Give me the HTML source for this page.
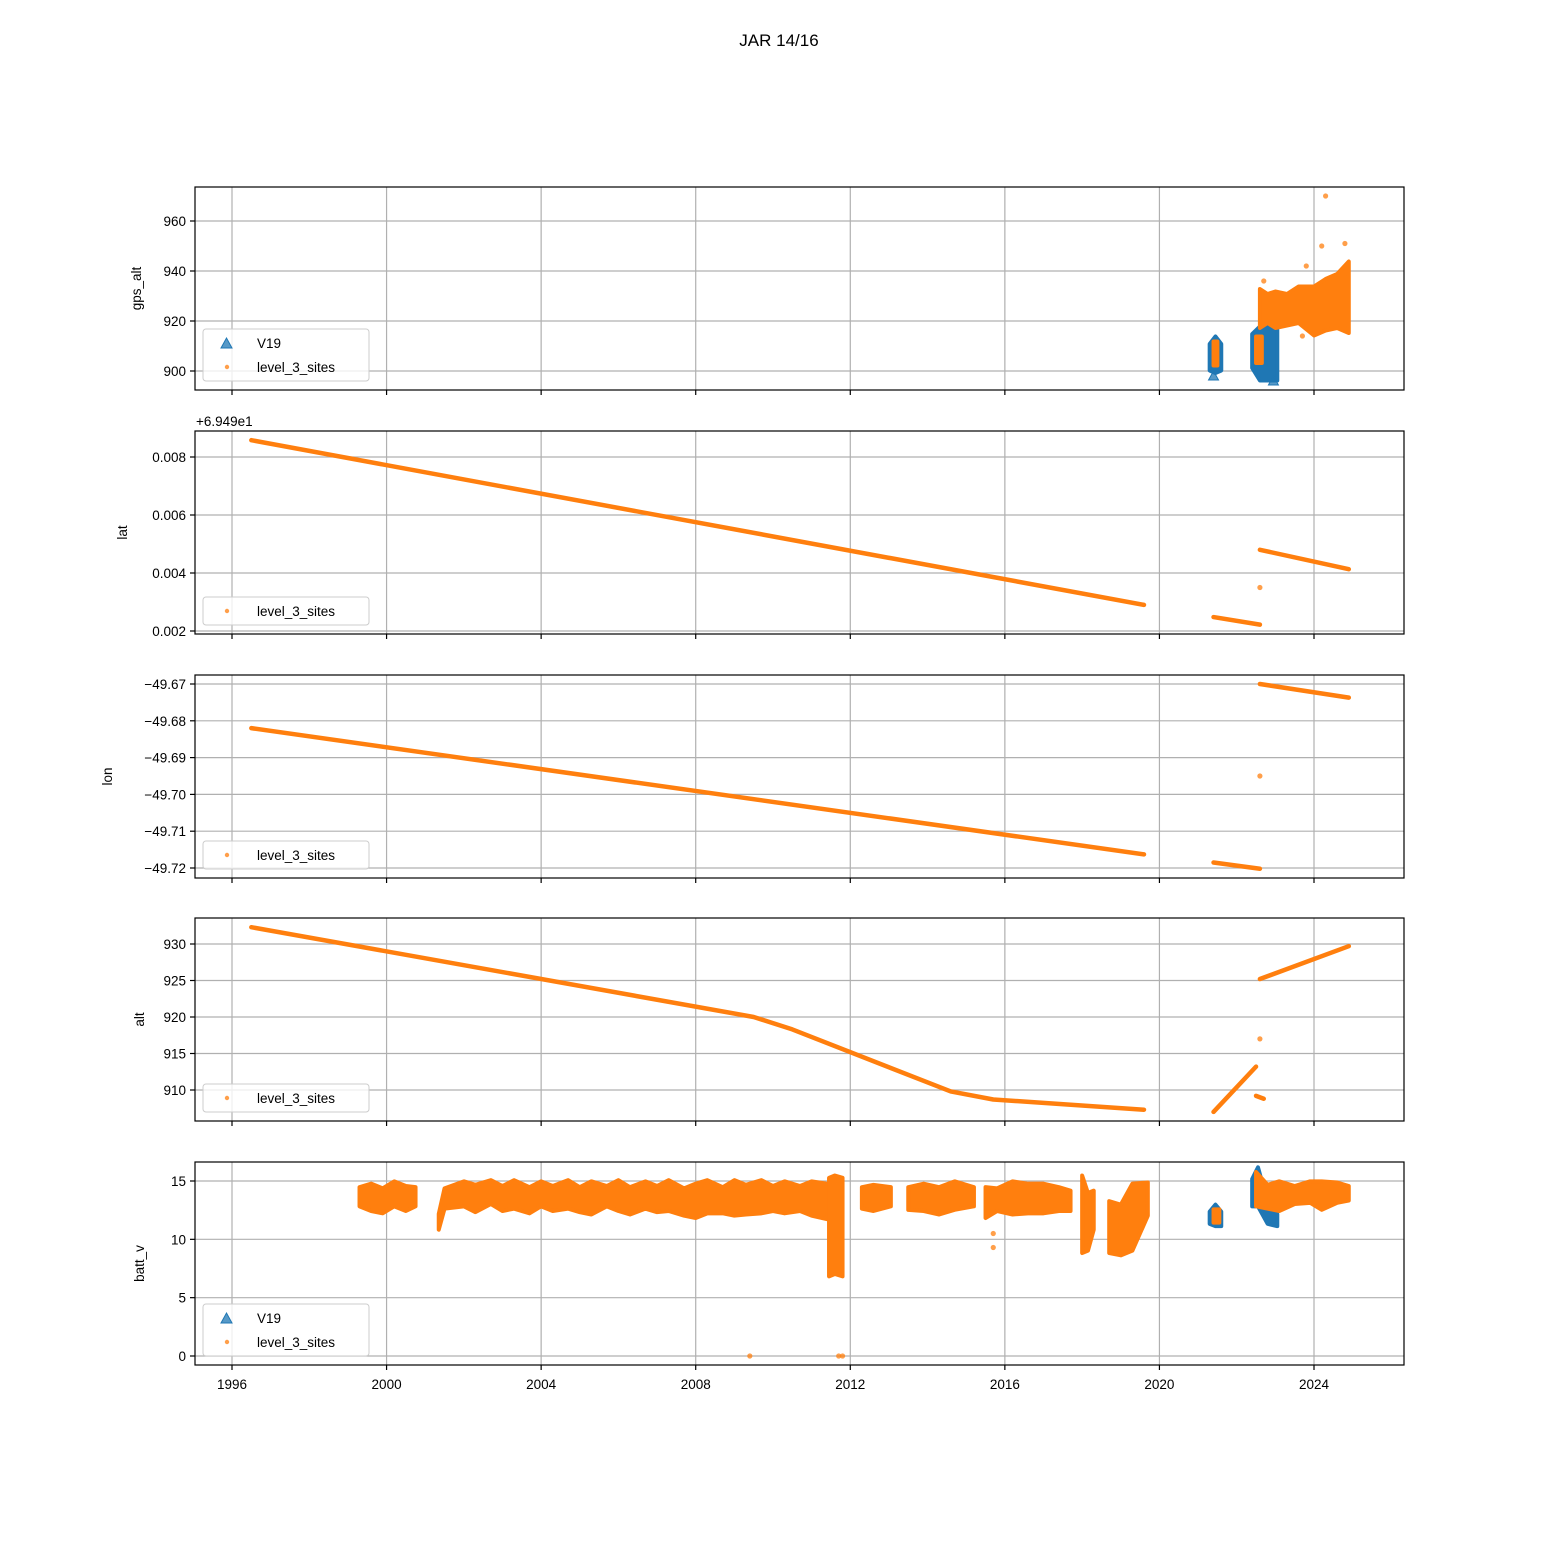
<!DOCTYPE html>
<html><head><meta charset="utf-8"><style>
body{margin:0;background:#fff}
svg{display:block;font-family:"Liberation Sans","DejaVu Sans",sans-serif}
</style></head><body>
<svg id="fig" width="1560" height="1560" viewBox="0 0 1560 1560">
<text x="779" y="46" text-anchor="middle" font-size="17">JAR 14/16</text>
</svg>
<script>
const NS="http://www.w3.org/2000/svg";
const svg=document.getElementById('fig');
const OR="#ff7f0e", BL="#1f77b4";
// ---------- data ----------
const xTicks=[1996,2000,2004,2008,2012,2016,2020,2024];
// gps_alt
const gpsTicks=[900,920,940,960];
const gpsOrT=[2022.6,2022.8,2023.0,2023.3,2023.6,2024.0,2024.3,2024.6,2024.9];
const gpsOrLo=[918,920,918,919,920,915,917,918,916];
const gpsOrHi=[932,930,931,930,933,933,936,938,943];
const gpsOutT=[2024.3,2024.2,2023.8,2024.8,2022.7,2023.7];
const gpsOutV=[970,950,942,951,936,914];
const gpsBlT=[[2021.3,2021.45,2021.6],[2022.4,2022.6,2022.8,2023.05]];
const gpsBlLo=[[901,900,901],[902,897,897,897]];
const gpsBlHi=[[910,913,910],[914,917,918,918]];
const gpsInT=[[2021.4,2021.5],[2022.5,2022.65]];
const gpsInLo=[903,904];
const gpsInHi=[911,913];
// lat (offset from 69.49)
const latTicks=[0.002,0.004,0.006,0.008];
const latSegT=[[1996.5,2019.6],[2021.4,2022.6],[2022.6,2024.9]];
const latSegV=[[0.00858,0.00290],[0.00248,0.00222],[0.00480,0.00413]];
const latOutT=[2022.6], latOutV=[0.00350];
// lon
const lonTicks=[-49.72,-49.71,-49.70,-49.69,-49.68,-49.67];
const lonSegT=[[1996.5,2019.6],[2021.4,2022.6],[2022.6,2024.9]];
const lonSegV=[[-49.682,-49.7163],[-49.7185,-49.7202],[-49.670,-49.6737]];
const lonOutT=[2022.6], lonOutV=[-49.695];
// alt
const altTicks=[910,915,920,925,930];
const altL1T=[1996.5,2009.5,2010.5,2014.6,2015.7,2019.6];
const altL1V=[932.3,920,918.3,909.8,908.7,907.3];
const altSegT=[[2021.4,2022.5],[2022.5,2022.7],[2022.6,2024.9]];
const altSegV=[[907,913.2],[909.2,908.8],[925.2,929.7]];
const altOutT=[2022.6], altOutV=[917];
// batt_v
const battTicks=[0,5,10,15];
const battSegT=[
 [1999.3,1999.6,1999.9,2000.2,2000.5,2000.75],
 [2001.35,2001.5,2002.0,2002.3,2002.7,2003.0,2003.3,2003.7,2004.0,2004.3,2004.7,2005.0,2005.3,2005.7,2006.0,2006.3,2006.7,2007.0,2007.3,2007.7,2008.0,2008.3,2008.7,2009.0,2009.3,2009.7,2010.0,2010.3,2010.7,2011.0,2011.4],
 [2011.45,2011.6,2011.8],
 [2012.3,2012.6,2013.05],
 [2013.5,2013.9,2014.3,2014.7,2015.2],
 [2015.5,2015.8,2016.2,2016.6,2017.0,2017.4,2017.7],
 [2018.0,2018.15,2018.3],
 [2018.7,2019.0,2019.3,2019.7],
 [2022.5,2022.8,2023.1,2023.5,2023.9,2024.2,2024.6,2024.9]];
const battSegLo=[
 [13,12.6,12.4,13,12.6,13],
 [11,12.8,13,12.5,13.2,12.6,12.8,12.4,13,12.6,12.8,12.5,12.3,13,12.6,12.3,12.8,12.5,12.6,12.2,12,12.4,12.4,12.2,12.3,12.4,12.6,12.4,12.6,12.2,11.9],
 [7,7.2,7],
 [12.8,12.6,13],
 [12.7,12.6,12.3,12.7,13],
 [12,12.6,12.3,12.4,12.4,12.6,12.6],
 [9,9.2,11],
 [9,8.8,9.2,12.2],
 [13,12.8,12.6,13.2,13.3,12.7,13.3,13.5]];
const battSegHi=[
 [14.3,14.6,14.2,14.8,14.4,14.3],
 [12,14.2,14.8,14.5,14.9,14.4,14.9,14.3,14.8,14.4,14.9,14.3,14.8,14.4,14.9,14.3,14.8,14.4,14.9,14.2,14.6,14.9,14.3,14.9,14.5,14.9,14.4,14.8,14.4,14.8,14.6],
 [15.1,15.3,15.1],
 [14.3,14.5,14.3],
 [14.3,14.6,14.3,14.8,14.3],
 [14.3,14.2,14.8,14.6,14.6,14.3,14],
 [15.3,13.8,14],
 [13.1,12.8,14.6,14.7],
 [15.6,14.5,14.8,14.4,14.8,14.8,14.7,14.4]];
const battBlT=[[2021.3,2021.45,2021.6],[2022.4,2022.55,2022.8,2023.05]];
const battBlLo=[[11.5,11.3,11.3],[13,13,11.5,11.3]];
const battBlHi=[[12.2,12.8,12.2],[15,16,13,12]];
const battOutT=[2009.4,2011.7,2011.8,2015.7,2015.7];
const battOutV=[0,0,0,10.5,9.3];
// ---------- helpers ----------
const X0=195,X1=1404;
const x=t=>232+(t-1996)*(1082/28);
function el(tag,attrs,parent){const e=document.createElementNS(NS,tag);for(const k in attrs)e.setAttribute(k,attrs[k]);(parent||svg).appendChild(e);return e;}
function panel(name,top,bot,v0,p0,v1,p1,ticks,fmt,ylabel,last){
  const y=v=>p0+(v-v0)*(p1-p0)/(v1-v0);
  const g=el('g',{});
  
  
  for(const t of xTicks){const l=el('line',{x1:x(t),x2:x(t),y1:top,y2:bot,stroke:'#b0b0b0','stroke-width':1.2},g);
    
    el('line',{x1:x(t),x2:x(t),y1:bot,y2:bot+5,stroke:'#000','stroke-width':1.2},g);
    if(last){const tx=el('text',{x:x(t),y:bot+24,'text-anchor':'middle','font-size':13.5},g);tx.textContent=t;
      }}
  for(const v of ticks){const yy=y(v);const l=el('line',{x1:X0,x2:X1,y1:yy,y2:yy,stroke:'#b0b0b0','stroke-width':1.2},g);
    
    el('line',{x1:X0-5,x2:X0,y1:yy,y2:yy,stroke:'#000','stroke-width':1.2},g);
    const tx=el('text',{x:X0-9,y:yy+5,'text-anchor':'end','font-size':13.5},g);tx.textContent=fmt(v);
    }
  const yl=el('text',{x:0,y:0,'text-anchor':'middle','font-size':13.5,transform:`translate(${X0-(name==='lon'?83:name==='lat'?68:name==='gps_alt'?54:51)},${(top+bot)/2}) rotate(-90)`},g);
  yl.textContent=ylabel;
  const data=el('g',{},g);
  
  return {y,g,data,top,bot};
}
function frame(P){const r=el('rect',{x:X0,y:P.top,width:X1-X0,height:P.bot-P.top,fill:'none',stroke:'#000','stroke-width':1.2},P.g);
  }
function band(P,ts,lo,hi,col,op,pad){
  const pts=[];ts.forEach((t,i)=>pts.push([x(t),P.y(hi[i])-pad]));
  for(let i=ts.length-1;i>=0;i--)pts.push([x(ts[i]),P.y(lo[i])+pad]);
  const p=el('polygon',{points:pts.map(q=>q.join(',')).join(' '),fill:col,'fill-opacity':op,stroke:col,'stroke-width':pad*2,'stroke-linejoin':'round','stroke-opacity':op},P.data);
  
}
function seg(P,ts,vs,col){
  const pl=el('polyline',{points:ts.map((t,i)=>x(t)+','+P.y(vs[i])).join(' '),fill:'none',stroke:col,'stroke-width':4.5,'stroke-linecap':'round','stroke-linejoin':'round'},P.data);
  
}
function dots(P,ts,vs,col){ts.forEach((t,i)=>{const c=el('circle',{cx:x(t),cy:P.y(vs[i]),r:2.6,fill:col,'fill-opacity':0.75},P.data);
  });}
function tri(P,t,v){const cx=x(t),cy=P.y(v);const p=el('polygon',{points:`${cx-5},${cy+4} ${cx+5},${cy+4} ${cx},${cy-5}`,fill:BL,'fill-opacity':0.75,stroke:BL},P.data);
  }
function legend(P,both){
  const h=both?52:28, yb=P.bot-9-h;
  const g=el('g',{},P.g);
  el('rect',{x:203,y:yb,width:166,height:h,rx:3,fill:'#fff','fill-opacity':0.8,stroke:'#cccccc'},g);
  let yy=yb+14;
  if(both){const p=el('polygon',{points:`221,${yy+5} 232,${yy+5} 226.5,${yy-5}`,fill:BL,'fill-opacity':0.75,stroke:BL},g);
    
    const t=el('text',{x:257,y:yy+5,'font-size':13.5},g);t.textContent='V19';yy+=24;}
  const c=el('circle',{cx:227,cy:yy,r:2.2,fill:OR,'fill-opacity':0.75},g);
  const t=el('text',{x:257,y:yy+5,'font-size':13.5},g);t.textContent='level_3_sites';
}
// ---------- panel 1 ----------
let P=panel('gps_alt',187,390,900,371,960,221,gpsTicks,v=>v,'gps_alt',false);
gpsBlT.forEach((r,i)=>band(P,r,gpsBlLo[i],gpsBlHi[i],BL,1,2));
tri(P,2021.4,898);tri(P,2022.95,896);
gpsInT.forEach((r,i)=>band(P,r,[gpsInLo[i],gpsInLo[i]],[gpsInHi[i],gpsInHi[i]],OR,1,2));
band(P,gpsOrT,gpsOrLo,gpsOrHi,OR,1,2);
dots(P,gpsOutT,gpsOutV,OR);
frame(P);legend(P,true);
// ---------- panel 2 ----------
P=panel('lat',431,634,0.002,631,0.008,457,latTicks,v=>v.toFixed(3),'lat',false);
latSegT.forEach((r,i)=>seg(P,r,latSegV[i],OR));
dots(P,latOutT,latOutV,OR);
frame(P);legend(P,false);
const off=el('text',{x:196,y:426,'font-size':13.5});off.textContent='+6.949e1';

// ---------- panel 3 ----------
P=panel('lon',675,878,-49.72,868,-49.67,684,lonTicks,v=>'\u2212'+Math.abs(v).toFixed(2),'lon',false);
lonSegT.forEach((r,i)=>seg(P,r,lonSegV[i],OR));
dots(P,lonOutT,lonOutV,OR);
frame(P);legend(P,false);
// ---------- panel 4 ----------
P=panel('alt',918,1121,910,1090,930,944,altTicks,v=>v,'alt',false);
seg(P,altL1T,altL1V,OR);
altSegT.forEach((r,i)=>seg(P,r,altSegV[i],OR));
dots(P,altOutT,altOutV,OR);
frame(P);legend(P,false);
// ---------- panel 5 ----------
P=panel('batt_v',1162,1365,0,1356,15,1181,battTicks,v=>v,'batt_v',true);
battBlT.forEach((r,i)=>band(P,r,battBlLo[i],battBlHi[i],BL,1,2));
battSegT.forEach((ts,i)=>band(P,ts,battSegLo[i],battSegHi[i],OR,1,2));
band(P,[2021.4,2021.55],[11.6,11.6],[12.4,12.4],OR,1,2);
dots(P,battOutT,battOutV,OR);
frame(P);legend(P,true);
</script>
</body></html>
